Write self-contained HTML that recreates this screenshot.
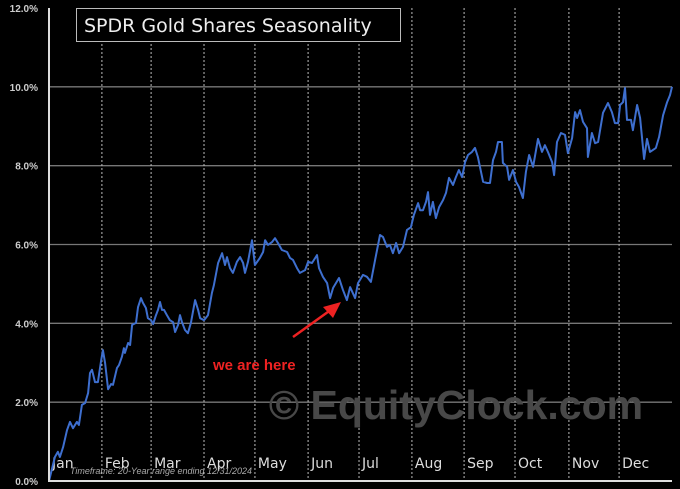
<!DOCTYPE html>
<html><head><meta charset="utf-8"><style>
html,body{margin:0;padding:0;background:#000;}
svg{display:block;font-family:"Liberation Sans",sans-serif;}
</style></head><body>
<svg id="chart" width="680" height="489" viewBox="0 0 680 489">
<g id="grid"></g>
<text x="456" y="419" font-size="41" font-weight="bold" fill="#484848" text-anchor="middle">© EquityClock.com</text>
<g id="xlabels"></g>
<g id="ylabels"></g>
<path id="line" fill="none" stroke="#3e6fcf" stroke-width="2" stroke-linejoin="round"/>
<line x1="49" y1="481" x2="672" y2="481" stroke="#ddd" stroke-width="2"/>
<line x1="49" y1="8" x2="49" y2="482" stroke="#ddd" stroke-width="2"/>
<rect x="76.5" y="8.5" width="324" height="33" fill="#000" stroke="#bbb" stroke-width="1"/>
<text x="84" y="32" font-size="19" fill="#eee" font-family="DejaVu Sans, sans-serif">SPDR Gold Shares Seasonality</text>
<text x="70" y="474" font-size="9" font-style="italic" fill="#aaa">Timeframe: 20-Year range ending 12/31/2024</text>
<line x1="293" y1="337" x2="332" y2="309" stroke="#ee2222" stroke-width="2.5"/>
<polygon points="341,302 323,307 333,318" fill="#ee2222"/>
<text x="213" y="370" font-size="15" font-weight="bold" fill="#ee2222">we are here</text>
</svg>
<script>
const months = ["Jan","Feb","Mar","Apr","May","Jun","Jul","Aug","Sep","Oct","Nov","Dec"];
const monthStartDays = [0,21.4,41.3,62.7,83.3,104.8,125.4,146.8,167.9,188.5,210.3,230.6];
const yTicks = [0,2,4,6,8,10,12];
const yTickLabels = ["0.0%","2.0%","4.0%","6.0%","8.0%","10.0%","12.0%"];
const days = [0,1.1,2.4,3.6,4.4,5.7,7.3,8.5,9.7,11.3,12.1,13.3,14.6,15.8,16.6,17.4,18.6,19.8,21.0,21.8,22.7,23.9,25.1,25.9,27.5,28.3,29.5,30.3,30.7,32.0,32.8,33.6,35.2,36.0,37.2,38.0,39.2,40.0,41.3,42.1,43.3,44.1,44.9,45.7,46.5,47.7,48.9,50.2,51.0,52.2,53.0,53.8,55.0,56.2,57.4,59.1,60.3,61.1,62.7,64.3,65.9,66.7,68.4,70.0,71.2,72.0,73.2,74.4,76.0,77.3,78.5,79.3,80.5,82.1,83.3,85.3,86.6,87.4,88.6,90.2,91.4,92.6,94.2,96.3,97.5,98.7,100.3,101.5,103.6,104.8,106.4,108.4,109.2,110.8,112.5,113.7,114.9,117.3,118.9,120.5,121.8,123.8,125.0,127.0,128.6,130.2,131.9,133.9,135.1,136.7,137.9,139.1,140.4,141.6,143.2,144.8,146.4,147.6,149.3,150.1,151.3,152.5,153.3,154.1,155.3,156.5,157.8,159.4,160.6,161.8,163.4,164.6,165.8,167.1,168.3,169.5,171.1,172.3,173.5,175.6,177.2,178.4,179.6,180.8,181.6,183.2,183.6,185.3,186.1,187.7,188.9,190.1,191.7,192.9,194.2,195.8,197.8,199.4,200.6,201.8,203.5,204.3,205.5,207.1,208.7,209.9,211.6,212.8,213.6,214.8,216.0,217.6,218.0,219.6,220.9,222.1,224.1,226.1,227.7,228.9,230.2,231.0,232.2,233.0,233.8,235.4,236.2,237.9,239.1,240.7,241.9,243.1,244.3,245.5,246.8,248.4,250.0,251.2,252];
const values = [0,0.28,0.61,0.74,0.61,0.86,1.29,1.50,1.34,1.50,1.42,1.93,1.98,2.23,2.74,2.82,2.51,2.51,3.02,3.32,2.99,2.33,2.46,2.44,2.87,2.94,3.15,3.37,3.25,3.50,3.45,3.96,4.01,4.41,4.64,4.52,4.39,4.13,4.08,3.98,4.21,4.34,4.54,4.34,4.34,4.21,4.08,4.03,3.78,3.96,4.21,4.03,3.83,3.75,4.01,4.59,4.34,4.13,4.08,4.21,4.77,4.97,5.53,5.78,5.48,5.68,5.40,5.28,5.56,5.68,5.53,5.28,5.56,6.11,5.48,5.66,5.81,6.11,5.99,6.06,6.16,6.04,5.86,5.81,5.66,5.61,5.40,5.28,5.35,5.56,5.53,5.73,5.40,5.18,5.02,4.64,4.90,5.15,4.85,4.59,4.92,4.64,5.02,5.23,5.18,5.05,5.61,6.24,6.19,5.94,5.99,5.78,6.04,5.78,5.94,6.37,6.44,6.75,7.05,6.87,6.87,7.08,7.33,6.75,7.08,6.67,6.95,7.13,7.31,7.69,7.51,7.71,7.89,7.71,8.09,8.27,8.35,8.45,8.22,7.59,7.56,7.56,8.14,8.35,8.60,8.60,8.07,7.97,7.64,7.89,7.59,7.46,7.18,7.84,8.27,7.97,8.68,8.35,8.52,8.35,8.09,7.76,8.60,8.83,8.78,8.32,8.70,9.36,9.21,9.41,9.11,8.95,8.22,8.83,8.57,8.60,9.34,9.59,9.36,9.08,9.08,9.54,9.61,9.97,9.16,9.16,8.90,9.54,9.21,8.17,8.68,8.35,8.40,8.45,8.73,9.28,9.61,9.79,10.0];

const X0=49,X1=672,Y0=481,Y1=8,DMAX=252,VMAX=12;
const xs = d => X0 + d/DMAX*(X1-X0);
const ys = v => Y0 - v/VMAX*(Y0-Y1);
const NS="http://www.w3.org/2000/svg";
const grid=document.getElementById('grid'), xl=document.getElementById('xlabels'), yl=document.getElementById('ylabels');
yTicks.forEach((t,i)=>{
  if(t>0 && t<VMAX){
    const l=document.createElementNS(NS,'line');
    l.setAttribute('x1',X0);l.setAttribute('x2',X1);l.setAttribute('y1',ys(t));l.setAttribute('y2',ys(t));
    l.setAttribute('stroke','#777');l.setAttribute('stroke-width','1.3');
    
    
    grid.appendChild(l);
  }
  const tx=document.createElementNS(NS,'text');
  tx.setAttribute('x',38);tx.setAttribute('y',ys(t)+4);tx.setAttribute('text-anchor','end');
  tx.setAttribute('font-size','10');tx.setAttribute('font-weight','bold');tx.setAttribute('fill','#ccc');
  tx.textContent=yTickLabels[i];
  
  
  yl.appendChild(tx);
});
months.forEach((m,i)=>{
  const x=xs(monthStartDays[i]);
  if(i>0){
    const l=document.createElementNS(NS,'line');
    l.setAttribute('x1',x);l.setAttribute('x2',x);l.setAttribute('y1',Y1);l.setAttribute('y2',Y0);
    l.setAttribute('stroke','#bbb');l.setAttribute('stroke-width','1');l.setAttribute('stroke-dasharray','2,2');
    
    
    grid.appendChild(l);
  }
  const tx=document.createElementNS(NS,'text');
  tx.setAttribute('x',x+3);tx.setAttribute('y',468);
  tx.setAttribute('font-size','14');tx.setAttribute('fill','#ddd');tx.setAttribute('font-family','DejaVu Sans, sans-serif');
  tx.textContent=m;
  
  
  xl.appendChild(tx);
});
document.getElementById('line').setAttribute('d', days.map((d,i)=>(i?'L':'M')+xs(d).toFixed(1)+','+ys(values[i]).toFixed(1)).join(''));
</script>
</body></html>
